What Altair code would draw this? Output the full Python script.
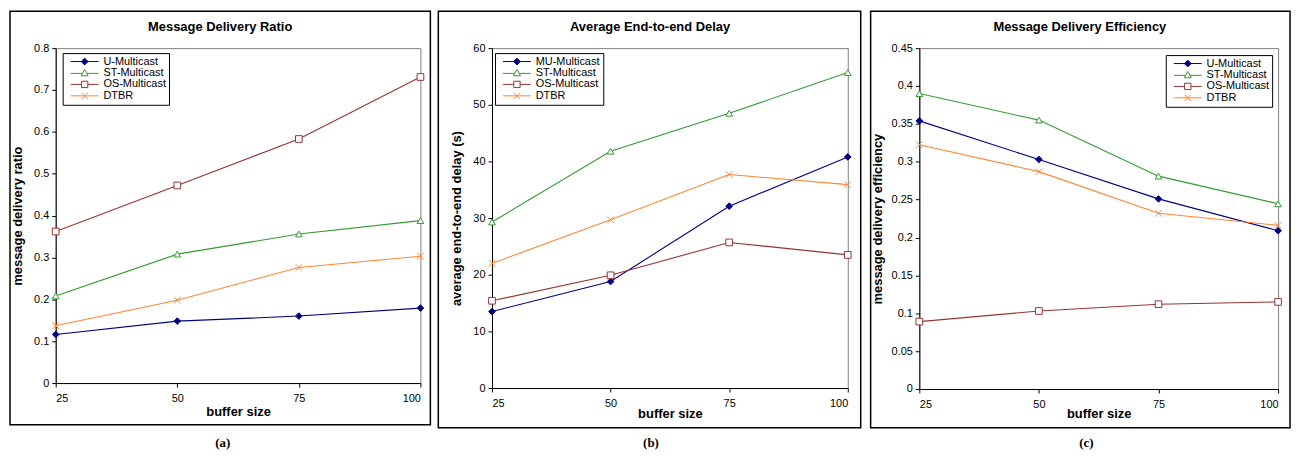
import altair as alt
import pandas as pd

# ---------------- data ----------------
buffer_sizes = [25, 50, 75, 100]

series_a = ["U-Multicast", "ST-Multicast", "OS-Multicast", "DTBR"]
series_b = ["MU-Multicast", "ST-Multicast", "OS-Multicast", "DTBR"]
series_c = ["U-Multicast", "ST-Multicast", "OS-Multicast", "DTBR"]

ratio_u = [0.116, 0.148, 0.160, 0.179]
ratio_st = [0.208, 0.308, 0.356, 0.388]
ratio_os = [0.362, 0.472, 0.583, 0.731]
ratio_dtbr = [0.137, 0.198, 0.276, 0.303]

delay_mu = [13.5, 18.8, 32.1, 40.8]
delay_st = [29.3, 41.8, 48.5, 55.7]
delay_os = [15.4, 19.9, 25.7, 23.5]
delay_dtbr = [22.0, 29.7, 37.7, 35.9]

eff_u = [0.354, 0.303, 0.251, 0.209]
eff_st = [0.390, 0.355, 0.281, 0.2445]
eff_os = [0.089, 0.103, 0.112, 0.115]
eff_dtbr = [0.3225, 0.287, 0.232, 0.216]

ticks_a = [0, 0.1, 0.2, 0.3, 0.4, 0.5, 0.6, 0.7, 0.8]
ticks_b = [0, 10, 20, 30, 40, 50, 60]
ticks_c = [0, 0.05, 0.1, 0.15, 0.2, 0.25, 0.3, 0.35, 0.4, 0.45]

# ---------------- styles ----------------
colors = ["#000080", "#339933", "#993333", "#FF8533"]
fills = ["#000080", "#FFFFFF", "#FFFFFF", "#FFFFFF"]
marker_shapes = ["diamond", "triangle-up", "square", "M-1,-1L1,1M-1,1L1,-1"]
# legend glyphs: short line with the series marker in its middle
legend_shapes = [
    "M-0.1,0H6.9M3.4,-0.85L4.25,0L3.4,0.85L2.55,0Z",
    "M-0.1,0.1H2.84M3.96,0.1H6.9M3.4,-0.9L4.3,0.7L2.5,0.7Z",
    "M-0.1,0H2.6M4.2,0H6.9M2.6,-0.8H4.2V0.8H2.6Z",
    "M-0.1,0H6.9M2.6,-0.8L4.2,0.8M2.6,0.8L4.2,-0.8",
]
FONT = "Liberation Sans"


def panel(title, ytitle, series, values, ydomain, yticks, yfmt, w, h,
          lx, ly, tdx, ytp, xtp, border, cap, capx):
    rows = []
    for i, s in enumerate(series):
        for x, v in zip(buffer_sizes, values[i]):
            rows.append({"buffer": x, "value": v, "series": s})
    df = pd.DataFrame(rows)

    xenc = alt.X("buffer:Q",
                 scale=alt.Scale(domain=[25, 100], nice=False, zero=False),
                 axis=alt.Axis(values=buffer_sizes, format="d", title="buffer size",
                               labelPadding=6, titlePadding=xtp, tickSize=4))
    yenc = alt.Y("value:Q",
                 scale=alt.Scale(domain=ydomain, nice=False),
                 axis=alt.Axis(values=yticks, format=yfmt, title=ytitle,
                               labelPadding=3, titlePadding=ytp, tickSize=4))

    base = alt.Chart(df)
    lines = base.mark_line(strokeWidth=1.1).encode(
        x=xenc, y=yenc,
        color=alt.Color("series:N", scale=alt.Scale(domain=series, range=colors), legend=None),
    )
    pts = base.mark_point(size=45, strokeWidth=1, opacity=1).encode(
        x=xenc, y=yenc,
        shape=alt.Shape("series:N", scale=alt.Scale(domain=series, range=marker_shapes), legend=None),
        stroke=alt.Stroke("series:N", scale=alt.Scale(domain=series, range=colors), legend=None),
        fill=alt.Fill("series:N", scale=alt.Scale(domain=series, range=fills), legend=None),
    )
    leg = alt.Legend(orient="none", legendX=lx, legendY=ly, title=None,
                     direction="vertical", columns=1,
                     labelFont=FONT, labelFontSize=11, labelColor="#000000",
                     labelAlign="left", labelBaseline="middle",
                     padding=3, strokeColor="#000000", fillColor="#FFFFFF",
                     symbolSize=64, symbolStrokeWidth=1, symbolOffset=0,
                     labelOffset=27, rowPadding=-0.5, labelLimit=300)
    legl = base.transform_filter("false").mark_point(opacity=1, strokeWidth=1).encode(
        shape=alt.Shape("series:N", scale=alt.Scale(domain=series, range=legend_shapes), legend=leg),
        stroke=alt.Stroke("series:N", scale=alt.Scale(domain=series, range=colors), legend=leg),
        fill=alt.Fill("series:N", scale=alt.Scale(domain=series, range=fills), legend=leg),
    )
    one = alt.Chart(pd.DataFrame({"k": [0]}))
    frame = one.mark_rect(fillOpacity=0, stroke="#000000", strokeWidth=1.5).encode(
        x=alt.value(border[0]), x2=alt.value(w + border[1]),
        y=alt.value(border[2]), y2=alt.value(border[3]),
    )
    heading = one.mark_text(font=FONT, fontWeight="bold", fontSize=13,
                            baseline="middle", align="center", color="#000000").encode(
        x=alt.value(w / 2 + tdx), y=alt.value(-21), text=alt.value(title),
    )
    caption = one.mark_text(font="Liberation Serif", fontWeight="bold", fontSize=13,
                            baseline="middle", align="center", color="#000000").encode(
        x=alt.value(capx), y=alt.value(397), text=alt.value(cap),
    )
    return alt.layer(frame, lines, pts, legl, heading, caption).resolve_scale(
        shape="independent", stroke="independent", fill="independent"
    ).properties(width=w, height=h)


pa = panel("Message Delivery Ratio", "message delivery ratio", series_a,
           [ratio_u, ratio_st, ratio_os, ratio_dtbr], [0, 0.8], ticks_a, ".1~f",
           367, 337, 7, 5, -18, 9, 2, (-46, 10, -37, 379), "(a)", 168)
pb = panel("Average End-to-end Delay", "average end-to-end delay (s)", series_b,
           [delay_mu, delay_st, delay_os, delay_dtbr], [0, 60], ticks_b, "d",
           358, 342, 3, 5, -20, 9, -1, (-54, 13, -37, 382), "(b)", 160)
pc = panel("Message Delivery Efficiency", "message delivery efficiency", series_c,
           [eff_u, eff_st, eff_os, eff_dtbr], [0, 0.45], ticks_c, ".2~f",
           361, 343, 248, 7, -19, 7, -2, (-49, 12, -37, 382), "(c)", 168)

chart = alt.hconcat(pa, pb, pc, spacing=72, bounds="flush").properties(
    padding={"left": 0, "top": 0, "right": 2, "bottom": 2}
).configure_view(stroke="#808080", strokeWidth=1).configure_axis(
    domainColor="#000000", tickColor="#000000", labelColor="#000000",
    titleColor="#000000", labelFont=FONT, labelFontSize=11,
    titleFont=FONT, titleFontSize=13, titleFontWeight="bold", grid=False,
    domainWidth=1, tickWidth=1,
).configure_legend(strokeWidth=1, cornerRadius=0)

chart.save("out.html", embed_options={"renderer": "svg", "actions": False})
